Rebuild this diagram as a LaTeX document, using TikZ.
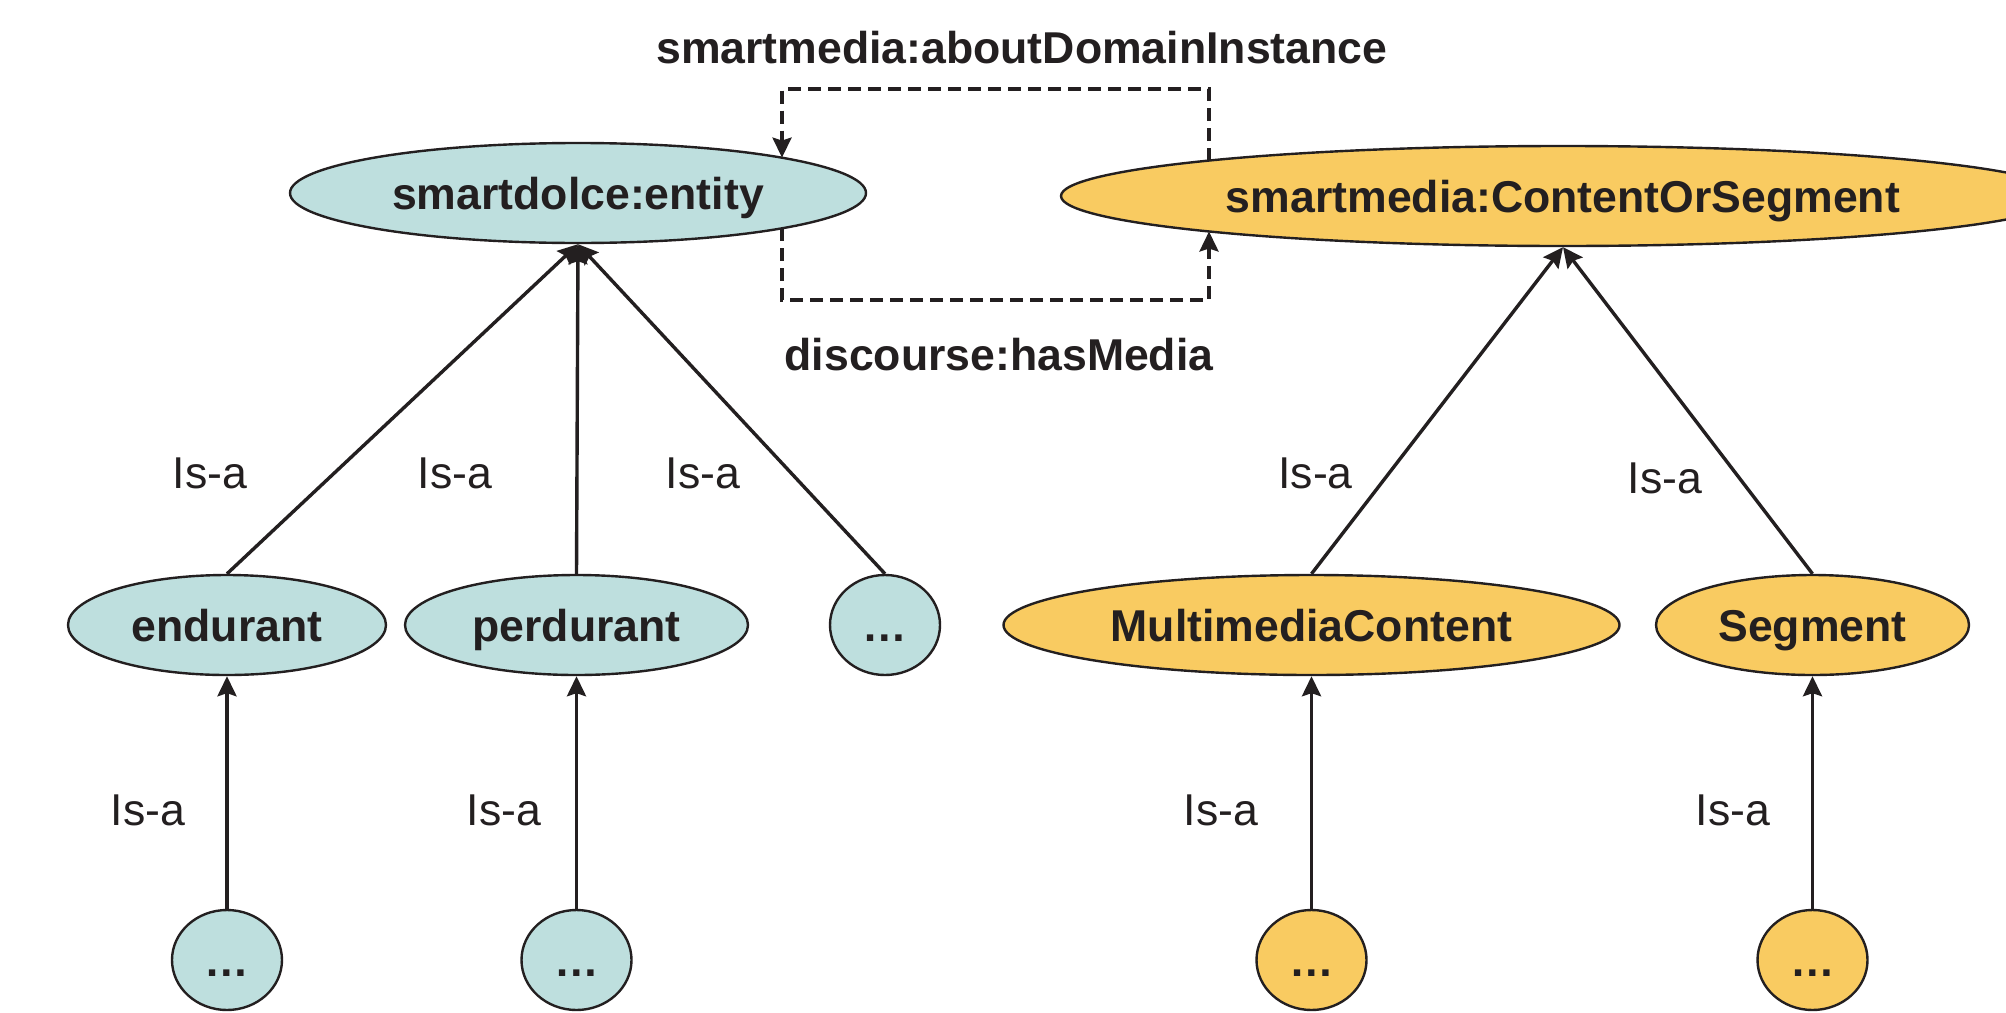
\documentclass[tikz,border=0pt]{standalone}
\usepackage{fontspec}
\setmainfont{Liberation Sans}
\usetikzlibrary{arrows.meta,shapes.geometric,calc}
\definecolor{ink}{HTML}{231F20}
\definecolor{tealfill}{HTML}{BEDFDE}
\definecolor{orangefill}{HTML}{F9CB61}
\begin{document}
\begin{tikzpicture}[x=0.5pt,y=-0.5pt,
  txt/.style={font=\fontsize{22.3}{26}\selectfont, text=ink, inner sep=0pt},
  boldtxt/.style={font=\bfseries\fontsize{22.3}{26}\selectfont, text=ink, inner sep=0pt},
  ell/.style={ellipse, draw=ink, line width=1.2pt, inner sep=0pt, minimum height=50pt,
    text height=16pt, text depth=0pt, font=\bfseries\fontsize{22.3}{26}\selectfont, text=ink},
  tealnode/.style={ell, fill=tealfill},
  orangenode/.style={ell, fill=orangefill},
  isa/.style={-{Stealth[length=10pt,width=9.5pt,inset=1.5pt]}, line width=1.7pt, draw=ink},
  rel/.style={isa, dash pattern=on 6.5pt off 3.5pt}
]
\useasboundingbox (0,0) rectangle (2006,1012);
\clip (0,0) rectangle (2006,1012);
\fill[white] (0,0) rectangle (2006,1012);

% left tree
\node[tealnode, minimum width=288pt] (entity) at (578,193) {smartdolce:entity};
\node[tealnode, minimum width=159pt] (endurant) at (227,625) {endurant};
\node[tealnode, minimum width=171.5pt] (perdurant) at (576.5,625) {perdurant};
\node[tealnode, minimum width=55pt] (ldots) at (885,625) {…};
\node[tealnode, minimum width=55pt] (endsub) at (227,960) {…};
\node[tealnode, minimum width=55pt] (persub) at (576.5,960) {…};

% right tree
\node[orangenode, minimum width=502pt] (cs) at (1563,196) {smartmedia:ContentOrSegment};
\node[orangenode, minimum width=308pt] (mc) at (1311.5,625) {MultimediaContent};
\node[orangenode, minimum width=156.5pt] (seg) at (1812.5,625) {Segment};
\node[orangenode, minimum width=55pt] (mcsub) at (1311.5,960) {…};
\node[orangenode, minimum width=55pt] (segsub) at (1812.5,960) {…};

% is-a arrows
\draw[isa] (endurant.north) -- (entity.south);
\draw[isa] (perdurant.north) -- (entity.south);
\draw[isa] (ldots.north) -- (entity.south);
\draw[isa] (endsub.north) -- (endurant.south);
\draw[isa] (persub.north) -- (perdurant.south);
\draw[isa] (mc.north) -- (cs.south);
\draw[isa] (seg.north) -- (cs.south);
\draw[isa] (mcsub.north) -- (mc.south);
\draw[isa] (segsub.north) -- (seg.south);

% is-a labels
\node[txt, anchor=base] (l1) at (210,488.3) {Is-a};
\node[txt, anchor=base] (l2) at (455,488.3) {Is-a};
\node[txt, anchor=base] (l3) at (703,488.3) {Is-a};
\node[txt, anchor=base] (l4) at (1315.5,488.3) {Is-a};
\node[txt, anchor=base] (l5) at (1665,493.3) {Is-a};
\node[txt, anchor=base] (l6) at (148,825) {Is-a};
\node[txt, anchor=base] (l7) at (504,825) {Is-a};
\node[txt, anchor=base] (l8) at (1221,825) {Is-a};
\node[txt, anchor=base] (l9) at (1733,825) {Is-a};

% dashed relations (end points on the ellipse borders)
\coordinate (entTop) at ($(entity.center)+(204,-35.4)$);
\coordinate (entBot) at ($(entity.center)+(204,35.4)$);
\coordinate (csTop) at ($(cs.center)+(-354,-35.5)$);
\coordinate (csBot) at ($(cs.center)+(-354,35.5)$);
\coordinate (topline) at (0,89);
\coordinate (botline) at (0,300);
\draw[rel] (csTop) |- (entTop |- topline) -- (entTop);
\draw[rel] (entBot) |- (csBot |- botline) -- (csBot);

\node[boldtxt, anchor=base] (about) at (1021.8,63.3) {smartmedia:aboutDomainInstance};
\node[boldtxt, anchor=base] (hasmedia) at (999,370) {discourse:hasMedia};
\end{tikzpicture}
\end{document}
